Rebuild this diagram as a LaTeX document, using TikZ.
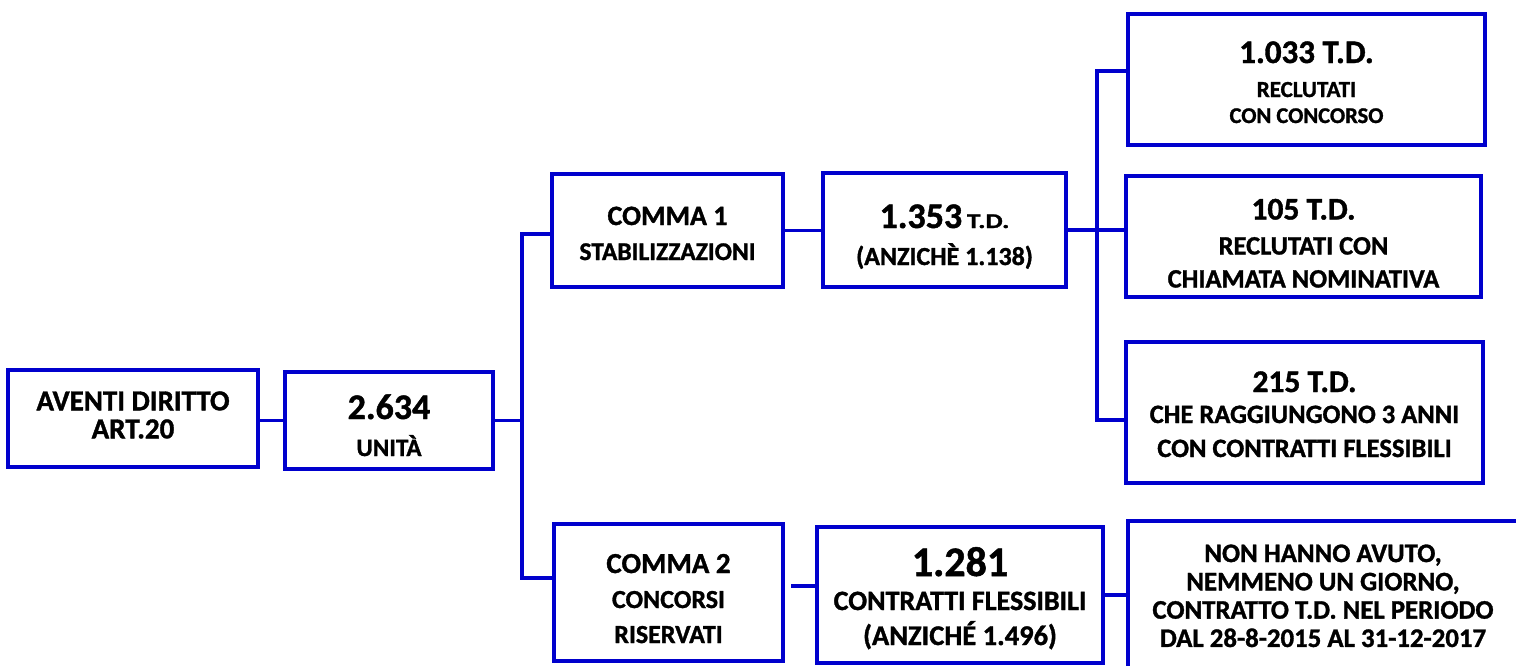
\documentclass[tikz,border=0pt]{standalone}
\usepackage{fontspec}
\setmainfont{Carlito}[BoldFeatures={FakeBold=1.2}]
\definecolor{lblue}{RGB}{0,0,205}
\newcommand{\fsz}[2]{\fontsize{#1}{#2}\selectfont}
\newcommand{\Stack}[2]{\vbox{\hsize=#1\offinterlineskip #2}}
\newcommand{\Ln}[3]{\vbox to #2pt{\vss\hbox to\hsize{\hss\fsz{#1}{#1}\smash{#3}\hss}}}
\tikzset{
  box/.style={draw=lblue, line width=3.5pt, rectangle, inner sep=0pt, font=\bfseries, text=black},
  conn/.style={draw=lblue, line width=3.5pt},
}
\begin{document}
\begin{tikzpicture}[x=1pt,y=-1pt]
\useasboundingbox (0,0) rectangle (1516,665);
\clip (0,0) rectangle (1516,665);

\node[box, minimum width=250pt, minimum height=97pt] (A) at (133,418.5)
  {\Stack{240pt}{\Ln{29}{18.7}{AVENTI DIRITTO}\Ln{29}{28}{ART.20}\kern7pt}};
\node[box, minimum width=208pt, minimum height=97pt] (B) at (389,420.5)
  {\Stack{200pt}{\kern11pt\Ln{36}{23}{2.634}\Ln{25}{37}{UNITÀ}}};
\node[box, minimum width=231pt, minimum height=113pt] (C1) at (667.5,230.5)
  {\Stack{220pt}{\kern6pt\Ln{28}{18}{COMMA 1}\Ln{25.5}{35}{STABILIZZAZIONI}}};
\node[box, minimum width=243pt, minimum height=114pt] (D1) at (944.5,230)
  {\Stack{230pt}{\kern10pt\Ln{36}{23}{1.353{\fsz{21}{21} \scalebox{1.3}[1]{T.D.}}}\Ln{26}{37}{(ANZICHÈ 1.138)}}};
\node[box, minimum width=357pt, minimum height=131pt] (E1) at (1306.5,79.5)
  {\Stack{340pt}{\kern6pt\Ln{33}{21}{1.033 T.D.}\Ln{23}{34}{RECLUTATI}\Ln{22.5}{26}{CON CONCORSO}}};
\node[box, minimum width=355pt, minimum height=121pt] (E2) at (1303.5,236.5)
  {\Stack{340pt}{\kern14pt\Ln{31.5}{20}{105 T.D.}\Ln{26.5}{35}{RECLUTATI CON}\Ln{26.5}{33}{CHIAMATA NOMINATIVA}}};
\node[box, minimum width=357pt, minimum height=141pt] (E3) at (1304.5,412.5)
  {\Stack{340pt}{\kern4pt\Ln{31.5}{20}{215 T.D.}\Ln{26.5}{31}{CHE RAGGIUNGONO 3 ANNI}\Ln{26.5}{34}{CON CONTRATTI FLESSIBILI}}};
\node[box, minimum width=229pt, minimum height=137pt] (C2) at (668.5,592.5)
  {\Stack{220pt}{\kern11pt\Ln{29}{20}{COMMA 2}\Ln{26}{35}{CONCORSI}\Ln{26}{35}{RISERVATI}}};
\node[box, minimum width=286pt, minimum height=136pt] (D2) at (960,595)
  {\Stack{275pt}{\kern6pt\Ln{42}{25}{1.281}\Ln{28}{34}{CONTRATTI FLESSIBILI}\Ln{28.5}{35}{(ANZICHÉ 1.496)}}};
\node[box, minimum width=390pt, minimum height=148pt] (F) at (1323,595)
  {\Stack{380pt}{\Ln{26.8}{19}{NON HANNO AVUTO,}\Ln{26.8}{28.3}{NEMMENO UN GIORNO,}\Ln{26.8}{28.3}{CONTRATTO T.D. NEL PERIODO}\Ln{26.8}{28.3}{DAL 28-8-2015 AL 31-12-2017}}};

\coordinate (t1a) at (522,234);
\coordinate (t1b) at (522,578);
\coordinate (t1m) at (522,420.5);
\coordinate (t2a) at (1097,71);
\coordinate (t2b) at (1097,420);
\coordinate (c2s) at (791,586);

\draw[conn] (A.east |- B.west) -- (B.west);
\draw[conn] (B.east) -- (t1m);
\draw[conn] (t1a -| C1.west) -- (t1a) -- (t1b) -- (t1b -| C2.west);
\draw[conn] (C1.east) -- (C1.east -| D1.west);
\draw[conn] (D1.east) -- (D1.east -| E2.west);
\draw[conn] (t2a -| E1.west) -- (t2a) -- (t2b) -- (t2b -| E3.west);
\draw[conn] (c2s) -- (c2s -| D2.west);
\draw[conn] (D2.east) -- (F.west);
\end{tikzpicture}
\end{document}
